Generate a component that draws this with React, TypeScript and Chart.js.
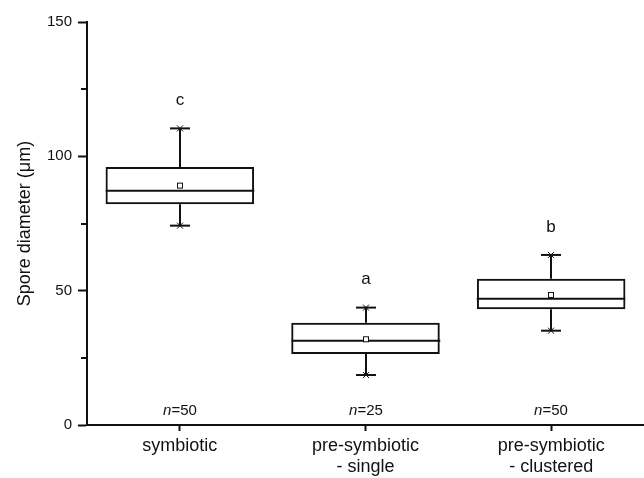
import React, { useEffect, useRef } from 'react';
import { Chart, registerables } from 'chart.js';

Chart.register(...registerables);

const FONT = "'Liberation Sans', Arial, sans-serif";

const categories: string[][] = [['symbiotic'], ['pre-symbiotic', '- single'], ['pre-symbiotic', '- clustered']];
const positions = [1, 2, 3];
const q1 = [82.2, 26.4, 43.1];
const q3 = [96.0, 38.1, 54.4];
const medians = [87.2, 31.4, 47.0];
const mins = [74.2, 18.6, 35.1];
const maxs = [110.4, 43.7, 63.3];
const means = [89.1, 31.9, 48.4];
const letters = ['c', 'a', 'b'];
const counts = ['50', '25', '50'];
const yMinorTicks = [25, 75, 125];

const INK = '#111';

const boxExtras = {
  id: 'boxExtras',
  afterDatasetsDraw(chart: any) {
    const { ctx, scales } = chart;
    const x = scales.x;
    const y = scales.y;
    const meta = chart.getDatasetMeta(0);
    ctx.save();
    ctx.strokeStyle = INK;
    ctx.fillStyle = INK;
    const line = (x1: number, y1: number, x2: number, y2: number) => {
      ctx.beginPath();
      ctx.moveTo(x1, y1);
      ctx.lineTo(x2, y2);
      ctx.stroke();
    };
    positions.forEach((p, i) => {
      const cx = Math.round(x.getPixelForValue(p));
      const half = meta.data[i].width / 2;
      const yMed = y.getPixelForValue(medians[i]);
      const yQ1 = y.getPixelForValue(q1[i]);
      const yQ3 = y.getPixelForValue(q3[i]);
      const yMin = y.getPixelForValue(mins[i]);
      const yMax = y.getPixelForValue(maxs[i]);
      const yMean = y.getPixelForValue(means[i]);
      ctx.lineWidth = 2;
      line(cx - half, yMed, cx + half, yMed);
      line(cx, yQ3, cx, yMax);
      line(cx, yQ1, cx, yMin);
      line(cx - 10, yMax, cx + 10, yMax);
      line(cx - 10, yMin, cx + 10, yMin);
      ctx.lineWidth = 1;
      [yMax, yMin].forEach((yy) => {
        line(cx - 3, yy - 3, cx + 3, yy + 3);
        line(cx - 3, yy + 3, cx + 3, yy - 3);
      });
      ctx.fillStyle = '#fff';
      ctx.fillRect(cx - 2.5, yMean - 2.5, 5, 5);
      ctx.strokeRect(cx - 2.5, yMean - 2.5, 5, 5);
      ctx.fillStyle = INK;
      // significance letters
      ctx.font = `17px ${FONT}`;
      ctx.textAlign = 'center';
      ctx.textBaseline = 'middle';
      ctx.fillText(letters[i], cx, yMax - 28);
      // n labels
      const yN = y.bottom - 14;
      ctx.font = `italic 15px ${FONT}`;
      const wN = ctx.measureText('n').width;
      ctx.font = `15px ${FONT}`;
      const rest = '=' + counts[i];
      const wR = ctx.measureText(rest).width;
      const start = cx - (wN + wR) / 2;
      ctx.textAlign = 'left';
      ctx.font = `italic 15px ${FONT}`;
      ctx.fillText('n', start, yN);
      ctx.font = `15px ${FONT}`;
      ctx.fillText(rest, start + wN, yN);
    });
    // minor ticks on y axis
    ctx.lineWidth = 2;
    yMinorTicks.forEach((v) => {
      const yy = Math.round(y.getPixelForValue(v));
      line(x.left - 6, yy, x.left, yy);
    });
    ctx.restore();
  },
};

export default function App() {
  const canvasRef = useRef<HTMLCanvasElement | null>(null);

  useEffect(() => {
    document.body.style.margin = '0';
    const canvas = canvasRef.current;
    if (!canvas) return;
    const chart = new Chart(canvas, {
      type: 'bar',
      data: {
        datasets: [
          {
            data: positions.map((p, i) => ({ x: p, y: [q1[i], q3[i]] })) as any,
            borderColor: INK,
            borderWidth: 2,
            backgroundColor: 'rgba(255,255,255,0)',
            borderSkipped: false,
            categoryPercentage: 0.8,
            barPercentage: 1,
          },
        ],
      },
      options: {
        animation: false,
        responsive: false,
        devicePixelRatio: 1,
        layout: { padding: { top: 22, right: 0, left: 0, bottom: 0 } },
        plugins: {
          legend: { display: false },
          tooltip: { enabled: false },
        },
        scales: {
          x: {
            type: 'linear',
            min: 0.5,
            max: 3.5,
            offset: false,
            afterBuildTicks: (scale: any) => {
              scale.ticks = positions.map((v) => ({ value: v }));
            },
            afterFit: (scale: any) => {
              scale.height = 53;
            },
            ticks: {
              autoSkip: false,
              maxRotation: 0,
              padding: 4,
              color: INK,
              font: { family: FONT, size: 18, lineHeight: 1.18 },
              callback: (v: any) => {
                const idx = positions.indexOf(Number(v));
                return idx >= 0 ? categories[idx] : '';
              },
            },
            grid: {
              display: true,
              offset: false,
              drawOnChartArea: false,
              drawTicks: true,
              tickLength: 6,
              tickWidth: 2,
              tickColor: INK,
            },
            border: { display: true, color: INK, width: 2 },
          },
          y: {
            type: 'linear',
            min: 0,
            max: 150,
            afterFit: (scale: any) => {
              scale.width = 87;
            },
            ticks: {
              stepSize: 50,
              padding: 6,
              color: INK,
              font: { family: FONT, size: 15 },
            },
            grid: {
              display: true,
              drawOnChartArea: false,
              drawTicks: true,
              tickLength: 9,
              tickWidth: 2,
              tickColor: INK,
            },
            border: { display: true, color: INK, width: 2 },
            title: {
              display: true,
              text: 'Spore diameter (μm)',
              color: INK,
              font: { family: FONT, size: 18 },
              padding: { top: 14, bottom: 0 },
            },
          },
        },
      },
      plugins: [boxExtras],
    });
    return () => chart.destroy();
  }, []);

  return (
    <div style={{ width: 644, height: 478 }}>
      <canvas ref={canvasRef} width={644} height={478} style={{ display: 'block' }} />
    </div>
  );
}
